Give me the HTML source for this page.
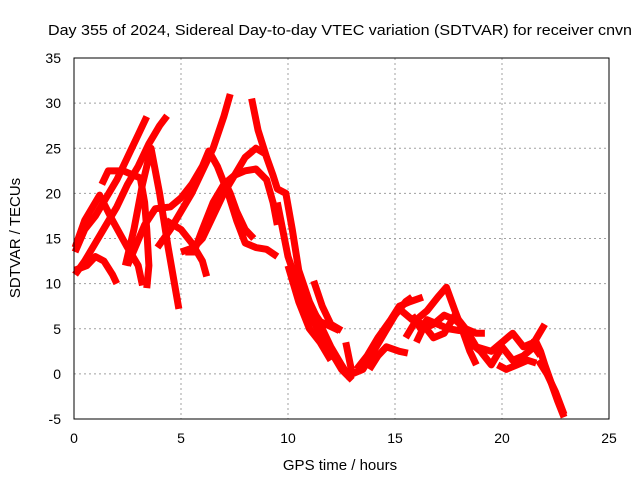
<!DOCTYPE html>
<html><head><meta charset="utf-8"><style>
body{margin:0;background:#fff}
svg{display:block;font-family:"Liberation Sans",sans-serif}
</style></head><body>
<svg id="chart" width="640" height="480" viewBox="0 0 640 480">
<rect width="640" height="480" fill="#fff"/>
<text x="48" y="35" font-size="15" textLength="584" lengthAdjust="spacingAndGlyphs" fill="#000">Day 355 of 2024, Sidereal Day-to-day VTEC variation (SDTVAR) for receiver cnvn</text>
<g id="grid"></g>
<g id="ticks"></g>
<g id="series"></g>
<rect x="74" y="58" width="535" height="361" fill="none" stroke="#000" stroke-width="1"/>
<text x="340" y="470" font-size="15" text-anchor="middle">GPS time / hours</text>
<text x="20" y="238" font-size="15" text-anchor="middle" transform="rotate(-90 20 238)">SDTVAR / TECUs</text>
</svg>
<script>
const xTicks=[0,5,10,15,20,25];
const yTicks=[-5,0,5,10,15,20,25,30,35];
const tA=[[0.05,13.5],[0.5,16],[1,17.5],[1.5,19.5],[2,21.5],[2.5,24],[3,26.5],[3.4,28.5]];
const tB=[[0.05,11],[0.5,12.5],[1,14.5],[1.5,16.5],[2,18.5],[2.5,21],[3,23],[3.5,25.5],[4,27.5],[4.35,28.6]];
const tC=[[2.4,12],[2.8,16],[3.2,21],[3.6,25],[4,20],[4.4,14],[4.9,7.2]];
const tD=[[1.3,21],[1.6,22.5],[2.3,22.5],[2.8,22],[3.1,21.7],[3.3,19],[3.4,16],[3.5,12],[3.4,9.5]];
const tE=[[0.05,14],[0.5,17],[1.2,19.8],[1.8,17],[2.5,14],[3,12],[3.2,9.8]];
const tF=[[0.05,11.5],[0.6,12],[1,13],[1.4,12.5],[1.8,11],[2,10]];
const tG=[[3.9,14],[4.5,16],[5,18],[5.5,20],[6,22.5],[6.5,25],[7,28.5],[7.3,31]];
const tH=[[2.5,12],[3.3,16.5],[3.8,18.3],[4.5,18.5],[5,19.5],[5.5,21],[6,23],[6.3,24.7],[6.7,23],[7.2,20],[7.6,17],[8,14.5],[8.5,14],[9,13.8],[9.5,13]];
const tI=[[5,13.5],[5.6,14],[6,15],[6.4,17],[7,20],[7.5,22],[8,24],[8.5,25],[9,24.3]];
const tJ=[[4.3,17],[5,16],[5.5,14.5],[6,12.5],[6.2,10.8]];
const tK=[[5.2,13.5],[5.6,13.5],[6,16],[6.5,19],[7,21],[7.5,22],[8,22.5],[8.5,22.7],[9,21.5],[9.3,19],[9.5,16.5]];
const tL=[[8.3,30.5],[8.6,27],[9,24],[9.3,22],[9.5,20.5],[9.9,20],[10.2,16],[10.5,11.5],[11,8],[11.5,5.5],[12,3],[12.5,1],[12.9,-0.5]];
const tM=[[7,21.5],[7.3,20],[7.6,18],[8,16],[8.4,15]];
const tN=[[9.5,19],[10,13],[10.5,9.5],[11,6.5],[11.5,4.5],[12,2.5],[12.5,0.5],[13,-0.7]];
const tO=[[10,12],[10.5,8],[11,5],[11.5,3.5],[12,1.5]];
const tP=[[10.5,10],[11,7.5],[11.5,5.8],[12.4,4.8]];
const tQ=[[11.2,10.3],[11.6,7.5],[12,5.5],[12.5,4.8]];
const tR=[[12.7,3.5],[13,0],[13.5,0.5],[14,2.5],[14.5,4.5],[15,6.5],[15.5,8],[15.8,8.5]];
const tS=[[13.2,0.5],[13.7,2],[14.2,4],[14.8,6],[15.2,7.5],[15.7,8],[16.3,8.5]];
const tT=[[13.8,0.5],[14.2,2],[14.6,3],[15.2,2.5],[15.6,2.3]];
const tU=[[15.5,4],[16,6],[16.5,7],[17,8.5],[17.4,9.6],[17.8,7],[18.2,4.5],[18.5,2.5],[18.8,1]];
const tV=[[16,3.5],[16.3,5],[16.8,5.5],[17.3,6.5],[17.8,6],[18.3,5],[18.8,4.5],[19.2,4.5]];
const tW=[[15.3,7],[15.8,6],[16.3,5.5],[16.8,4],[17.3,4.5],[17.8,6.5],[18.3,5],[18.8,3],[19.5,2.5],[20,3.5],[20.5,4.5],[21,3],[21.5,3.5],[22,5.5]];
const tX=[[18.5,3.5],[19,2.5],[19.5,1],[20,3],[20.5,1.5],[21,2],[21.5,3],[21.8,2]];
const tY=[[19.8,1],[20.2,0.5],[20.7,1],[21.2,1.5],[21.6,1.2]];
const tZ=[[21.5,4],[21.8,2.5],[22,1],[22.3,-1],[22.6,-3],[22.9,-4.8]];
const tZ2=[[21.7,1.5],[22.1,0],[22.5,-2],[22.9,-4.5]];
const tV2=[[15.8,6.5],[16.2,5],[16.5,6],[17,5.5],[17.5,5],[18,4.8],[18.5,4.7]];
const tracks=[tA,tB,tC,tD,tE,tF,tG,tH,tI,tJ,tK,tL,tM,tN,tO,tP,tQ,tR,tS,tT,tU,tV,tW,tX,tY,tZ,tZ2,tV2];

const NS='http://www.w3.org/2000/svg';
const X0=74,X1=609,Y0=419,Y1=58;
const xs=v=>X0+(v-0)/(25-0)*(X1-X0);
const ys=v=>Y0-(v+5)/(40)*(Y0-Y1);
const grid=document.getElementById('grid'),ticks=document.getElementById('ticks'),series=document.getElementById('series');
function mk(tag,attrs,parent){const e=document.createElementNS(NS,tag);for(const k in attrs)e.setAttribute(k,attrs[k]);parent.appendChild(e);return e;}
xTicks.forEach(t=>{
  const x=xs(t);
  if(t>0&&t<25){const g=mk('line',{x1:x,x2:x,y1:Y1,y2:Y0,stroke:'#a0a0a0','stroke-dasharray':'2,3'},grid);
  
  }
  const l=mk('text',{x:x,y:443,'font-size':14,'text-anchor':'middle'},ticks);
  
  
  l.textContent=t;
});
yTicks.forEach(t=>{
  const y=ys(t);
  if(t>-5&&t<35){const g=mk('line',{x1:X0,x2:X1,y1:y,y2:y,stroke:'#a0a0a0','stroke-dasharray':'2,3'},grid);
  
  }
  const l=mk('text',{x:61,y:y+5,'font-size':14,'text-anchor':'end'},ticks);
  
  
  l.textContent=t;
});
tracks.forEach(tr=>{
  const p=mk('polyline',{points:tr.map(d=>xs(d[0])+','+ys(d[1])).join(' '),fill:'none',stroke:'#ff0000','stroke-width':7,'stroke-linejoin':'round','stroke-linecap':'butt'},series);
  
  
});
</script>
</body></html>
